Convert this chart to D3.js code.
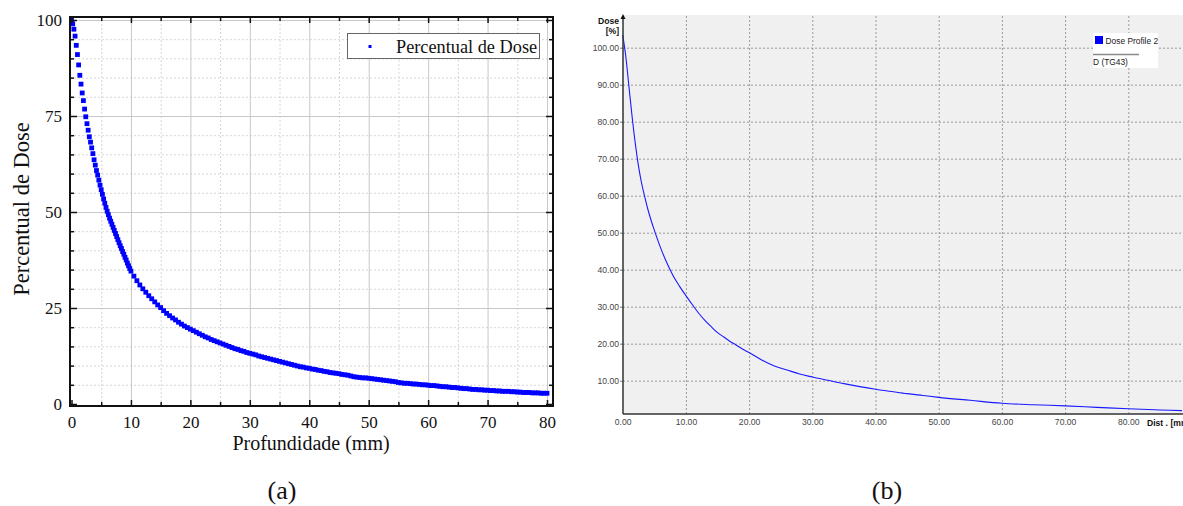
<!DOCTYPE html>
<html>
<head>
<meta charset="utf-8">
<script src="https://cdn.jsdelivr.net/npm/d3@7/dist/d3.min.js"></script>
<style>
  html, body { margin: 0; padding: 0; background: #fff; }
  svg { display: block; }
  .serif text { font-family: "Liberation Serif", "Times New Roman", serif; }
  .sans text { font-family: "Liberation Sans", Arial, sans-serif; }
</style>
</head>
<body>
<svg id="chart" width="1183" height="506"></svg>
<script>
// (a) Monte Carlo dose points: 0-10 mm every 0.2 mm, then 10.5-80 mm every 0.5 mm
const nearStart = 0, nearStep = 0.2;
const doseNear = [
  100, 99.0, 97.6, 95.8, 93.4, 91.0, 88.3, 85.6, 83.3, 81.0,
  79.0, 76.8, 74.8, 73.0, 71.3, 69.6, 68.2, 66.7, 65.2, 63.6,
  62.2, 60.8, 59.6, 58.3, 57.0, 55.8, 54.6, 53.4, 52.3, 51.2,
  50.2, 49.3, 48.4, 47.6, 46.8, 46.0, 45.2, 44.4, 43.6, 42.8,
  42.0, 41.2, 40.5, 39.7, 39.0, 38.2, 37.5, 36.7, 36.0, 35.3,
  34.6
];
const farStart = 10.5, farStep = 0.5;
const doseFar = [
  33.3, 32.1, 31.0, 30.0, 29.1, 28.2, 27.4, 26.6, 25.8, 25.1,
  24.3, 23.6, 23.0, 22.4, 21.9, 21.3, 20.8, 20.3, 19.9, 19.5,
  19.1, 18.7, 18.3, 17.9, 17.5, 17.2, 16.8, 16.5, 16.2, 15.9,
  15.6, 15.3, 15.0, 14.7, 14.4, 14.2, 13.9, 13.7, 13.4, 13.2,
  13.0, 12.8, 12.5, 12.3, 12.1, 11.9, 11.7, 11.5, 11.3, 11.1,
  10.9, 10.7, 10.5, 10.3, 10.1, 9.9, 9.7, 9.6, 9.4, 9.3,
  9.1, 9.0, 8.8, 8.7, 8.5, 8.4, 8.2, 8.1, 8.0, 7.9,
  7.7, 7.6, 7.5, 7.3, 7.1, 7.0, 6.9, 6.8, 6.8, 6.7,
  6.6, 6.5, 6.4, 6.3, 6.2, 6.1, 6.0, 5.9, 5.8, 5.6,
  5.5, 5.4, 5.4, 5.3, 5.2, 5.2, 5.1, 5.0, 5.0, 4.9,
  4.8, 4.8, 4.7, 4.6, 4.5, 4.5, 4.4, 4.3, 4.3, 4.2,
  4.1, 4.0, 4.0, 3.9, 3.8, 3.8, 3.7, 3.7, 3.6, 3.6,
  3.5, 3.5, 3.4, 3.4, 3.3, 3.3, 3.3, 3.2, 3.2, 3.1,
  3.1, 3.0, 3.0, 3.0, 2.9, 2.9, 2.9, 2.8, 2.8, 2.8
];
const xTicksA = [0, 10, 20, 30, 40, 50, 60, 70, 80];
const xMinorA = [5, 15, 25, 35, 45, 55, 65, 75];
const yTicksA = [0, 25, 50, 75, 100];
const yMinorA = [5, 10, 15, 20, 30, 35, 40, 45, 55, 60, 65, 70, 80, 85, 90, 95];

// (b) TPS dose profile
const profileDist = [0, 0.5, 1, 1.5, 2, 2.5, 3, 3.5, 4, 4.5, 5, 6, 7, 8, 9, 10, 11, 12, 13, 14,
  15, 16, 17, 18, 19, 20, 22, 24, 26, 28, 30, 32.5, 35, 37.5, 40, 42.5, 45, 47.5, 50,
  55, 60, 65, 70, 75, 80, 85, 88.5];
const profileDose = [103.4, 97.5, 89.3, 81.2, 74.0, 68.0, 63.3, 59.6, 56.2, 53.3, 50.7, 45.9, 41.8, 38.3, 35.5, 33.0, 30.6, 28.3, 26.3, 24.6,
  23.0, 21.8, 20.6, 19.6, 18.5, 17.6, 15.6, 14.0, 12.9, 11.8, 11.0, 10.1, 9.2, 8.4, 7.7, 7.1, 6.5, 6.0, 5.5,
  4.7, 3.9, 3.5, 3.2, 2.8, 2.4, 2.1, 1.9];
const xTicksB = [0, 10, 20, 30, 40, 50, 60, 70, 80];
const yTicksB = [10, 20, 30, 40, 50, 60, 70, 80, 90, 100];

const svg = d3.select('#chart');

// ---------- panel (a) ----------
const boxA = { left: 70, right: 553, top: 17, bottom: 406 };
const xA = d3.scaleLinear().domain([0, 80]).range([71.5, 547]);
const yA = d3.scaleLinear().domain([0, 100]).range([404, 20]);

const pointsA = doseNear.map((d, i) => ({ x: nearStart + i * nearStep, y: d }))
  .concat(doseFar.map((d, i) => ({ x: farStart + i * farStep, y: d })));

const gA = svg.append('g').attr('class', 'serif');

function gridAxis(axis, transform) {
  const g = gA.append('g').attr('transform', transform).call(axis);
  g.select('.domain').remove();
  g.selectAll('text').remove();
  return g;
}
const hA = boxA.bottom - boxA.top, wA = boxA.right - boxA.left;
gridAxis(d3.axisBottom(xA).tickValues(xMinorA).tickSize(-hA), `translate(0,${boxA.bottom})`)
  .selectAll('line').attr('stroke', '#d6d6d6').attr('stroke-dasharray', '2,2');
gridAxis(d3.axisLeft(yA).tickValues(yMinorA).tickSize(-wA), `translate(${boxA.left},0)`)
  .selectAll('line').attr('stroke', '#d6d6d6').attr('stroke-dasharray', '2,2');
gridAxis(d3.axisBottom(xA).tickValues(xTicksA.slice(1)).tickSize(-hA), `translate(0,${boxA.bottom})`)
  .selectAll('line').attr('stroke', '#c8c8c8');
gridAxis(d3.axisLeft(yA).tickValues(yTicksA.slice(1)).tickSize(-wA), `translate(${boxA.left},0)`)
  .selectAll('line').attr('stroke', '#c8c8c8');

// points
gA.append('g').selectAll('rect').data(pointsA).join('rect')
  .attr('x', d => xA(d.x) - 2.4).attr('y', d => yA(d.y) - 2.4)
  .attr('width', 4.8).attr('height', 4.8).attr('fill', '#0000ff');

// frame
gA.append('rect').attr('x', boxA.left).attr('y', boxA.top)
  .attr('width', wA).attr('height', hA)
  .attr('fill', 'none').attr('stroke', '#111').attr('stroke-width', 2);

// ticks, inward on all four sides
function tickAxis(axis, transform) {
  const g = gA.append('g').attr('transform', transform).call(axis);
  g.select('.domain').remove();
  g.selectAll('line').attr('stroke', '#111').attr('stroke-width', 1.5);
  return g;
}
const bottomA = tickAxis(d3.axisBottom(xA).tickValues(xTicksA).tickSize(-6).tickPadding(10), `translate(0,${boxA.bottom})`);
tickAxis(d3.axisBottom(xA).tickValues(xMinorA).tickSize(-4).tickFormat(''), `translate(0,${boxA.bottom})`);
tickAxis(d3.axisTop(xA).tickValues(xTicksA).tickSize(-6).tickFormat(''), `translate(0,${boxA.top})`);
tickAxis(d3.axisTop(xA).tickValues(xMinorA).tickSize(-4).tickFormat(''), `translate(0,${boxA.top})`);
const leftA = tickAxis(d3.axisLeft(yA).tickValues(yTicksA).tickSize(-7).tickPadding(8), `translate(${boxA.left},0)`);
tickAxis(d3.axisLeft(yA).tickValues(yMinorA).tickSize(-4).tickFormat(''), `translate(${boxA.left},0)`);
tickAxis(d3.axisRight(yA).tickValues(yTicksA).tickSize(-7).tickFormat(''), `translate(${boxA.right},0)`);
tickAxis(d3.axisRight(yA).tickValues(yMinorA).tickSize(-4).tickFormat(''), `translate(${boxA.right},0)`);
[bottomA, leftA].forEach(g => g.selectAll('text')
  .attr('font-size', 17).attr('fill', '#111')
  .style('font-family', '"Liberation Serif", serif'));

// axis titles
gA.append('text').attr('x', 311).attr('y', 450).attr('text-anchor', 'middle')
  .attr('font-size', 20).attr('fill', '#111').text('Profundidade (mm)');
gA.append('text').attr('transform', 'translate(29,209) rotate(-90)').attr('text-anchor', 'middle')
  .attr('font-size', 22.5).attr('fill', '#111').text('Percentual de Dose');

// legend
gA.append('rect').attr('x', 347.5).attr('y', 33.5).attr('width', 192).attr('height', 25)
  .attr('fill', '#fff').attr('stroke', '#666').attr('stroke-width', 1);
gA.append('rect').attr('x', 368.5).attr('y', 45).attr('width', 3).attr('height', 3).attr('fill', '#0000ff');
gA.append('text').attr('x', 396).attr('y', 52.5).attr('font-size', 18.3).attr('fill', '#111')
  .text('Percentual de Dose');

gA.append('text').attr('x', 282).attr('y', 499).attr('text-anchor', 'middle')
  .attr('font-size', 26).attr('fill', '#111').text('(a)');

// ---------- panel (b) ----------
const boxB = { left: 623, right: 1183, top: 15, bottom: 414 };
const xB = d3.scaleLinear().domain([0, 80]).range([622.7, 1128.3]);
const yB = d3.scaleLinear().domain([10, 100]).range([380.7, 47.7]);
const gB = svg.append('g').attr('class', 'sans');

gB.append('rect').attr('x', boxB.left).attr('y', boxB.top)
  .attr('width', boxB.right - boxB.left).attr('height', boxB.bottom - boxB.top)
  .attr('fill', '#f0f0f0');

const gridB1 = gB.append('g').attr('transform', `translate(0,${boxB.bottom})`)
  .call(d3.axisBottom(xB).tickValues(xTicksB.slice(1)).tickSize(-(boxB.bottom - boxB.top)).tickFormat(''));
const gridB2 = gB.append('g').attr('transform', `translate(${boxB.left},0)`)
  .call(d3.axisLeft(yB).tickValues(yTicksB).tickSize(-(boxB.right - boxB.left)).tickFormat(''));
[gridB1, gridB2].forEach(g => {
  g.select('.domain').remove();
  g.selectAll('line').attr('stroke', '#9a9a9a').attr('stroke-dasharray', '2,2');
});

// curve
const lineB = d3.line().x((d, i) => xB(profileDist[i])).y(d => yB(d)).curve(d3.curveMonotoneX);
gB.append('path').datum(profileDose).attr('d', lineB)
  .attr('fill', 'none').attr('stroke', '#1a1aff').attr('stroke-width', 1.1);

// axes
const axisYB = gB.append('g').attr('transform', `translate(${boxB.left},0)`)
  .call(d3.axisLeft(yB).tickValues(yTicksB).tickSize(3).tickPadding(1).tickFormat(d3.format('.2f')));
axisYB.select('.domain').remove();
axisYB.selectAll('line').attr('stroke', '#777');
const axisXB = gB.append('g').attr('transform', `translate(0,${boxB.bottom})`)
  .call(d3.axisBottom(xB).tickValues(xTicksB).tickSize(0).tickPadding(5).tickFormat(d3.format('.2f')));
axisXB.select('.domain').remove();
[axisYB, axisXB].forEach(g => g.selectAll('text')
  .attr('font-size', 8.6).attr('fill', '#454545')
  .style('font-family', '"Liberation Sans", Arial, sans-serif'));

gB.append('line').attr('x1', boxB.left).attr('x2', boxB.left).attr('y1', boxB.top + 3).attr('y2', boxB.bottom)
  .attr('stroke', '#333').attr('stroke-width', 1.5);
gB.append('line').attr('x1', boxB.left).attr('x2', boxB.right).attr('y1', boxB.bottom).attr('y2', boxB.bottom)
  .attr('stroke', '#333').attr('stroke-width', 1.5);
gB.append('path').attr('d', `M${boxB.left - 2.5},${boxB.top + 4}L${boxB.left},${boxB.top - 1}L${boxB.left + 2.5},${boxB.top + 4}Z`)
  .attr('fill', '#111');

gB.append('text').attr('x', 619).attr('y', 24).attr('text-anchor', 'end')
  .attr('font-size', 8.6).attr('font-weight', 'bold').attr('fill', '#111').text('Dose');
gB.append('text').attr('x', 619).attr('y', 34).attr('text-anchor', 'end')
  .attr('font-size', 8.6).attr('font-weight', 'bold').attr('fill', '#111').text('[%]');
// the reference cuts this label at the right edge of the figure
gB.append('text').attr('x', 1147).attr('y', 426)
  .attr('font-size', 8.6).attr('font-weight', 'bold').attr('fill', '#111').text('Dist . [mm]');

// legend
gB.append('rect').attr('x', 1093).attr('y', 33).attr('width', 65).attr('height', 35).attr('fill', '#fff');
gB.append('rect').attr('x', 1095).attr('y', 36).attr('width', 8).attr('height', 8).attr('fill', '#0000ff');
gB.append('text').attr('x', 1105.5).attr('y', 43.5).attr('font-size', 8.4).attr('fill', '#222').text('Dose Profile 2');
gB.append('line').attr('x1', 1093).attr('x2', 1139).attr('y1', 54.5).attr('y2', 54.5)
  .attr('stroke', '#8a8a8a').attr('stroke-width', 1.3);
gB.append('text').attr('x', 1093).attr('y', 64.5).attr('font-size', 8.4).attr('fill', '#222').text('D (TG43)');

svg.append('text').attr('x', 887).attr('y', 499).attr('text-anchor', 'middle')
  .attr('font-family', '"Liberation Serif", serif')
  .attr('font-size', 26).attr('fill', '#111').text('(b)');
</script>
</body>
</html>
